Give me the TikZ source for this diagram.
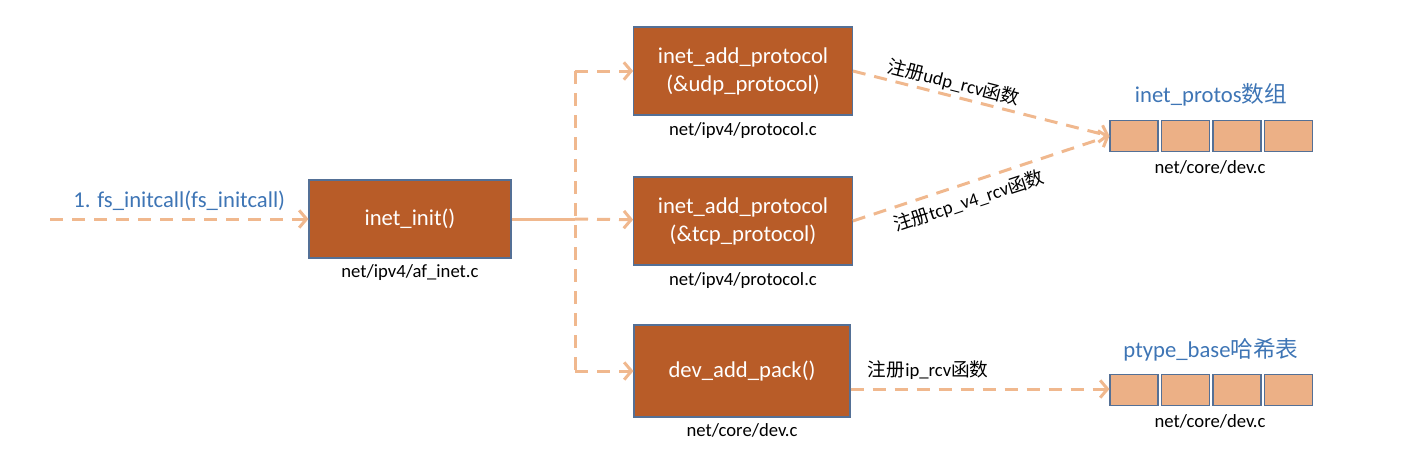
\documentclass[tikz,border=0pt]{standalone}
\usepackage{fontspec}
\setmainfont{Carlito}
\newfontfamily\cjk{Noto Sans CJK SC}
\usetikzlibrary{arrows.meta,positioning}
\definecolor{boxfill}{RGB}{184,92,40}
\definecolor{boxline}{RGB}{84,112,150}
\definecolor{cellfill}{RGB}{236,176,134}
\definecolor{arrowc}{RGB}{240,184,142}
\definecolor{bluetext}{RGB}{62,117,181}
\newcommand{\zh}[1]{{\cjk #1}}
\begin{document}
\begin{tikzpicture}[x=0.75pt, y=-0.75pt,
  box/.style = {draw=boxline, line width=0.8pt, fill=boxfill, text=white, align=center, minimum width=164pt, minimum height=66pt, font=\fontsize{17}{21}\selectfont},
  cell/.style = {draw=boxline, line width=0.8pt, fill=cellfill, minimum width=36pt, minimum height=23pt, inner sep=0pt},
  note/.style = {font=\fontsize{14}{16}\selectfont, inner sep=1pt},
  title/.style = {text=bluetext, font=\fontsize{17}{20}\selectfont},
  lbl/.style = {font=\fontsize{14}{16}\selectfont, inner sep=2pt},
  dline/.style = {draw=arrowc, line width=2.25pt, dash pattern=on 9.75pt off 6.75pt},
  arr/.style = {dline, -{Straight Barb[length=5.5pt, width=13pt]}}]
\useasboundingbox (0,0) rectangle (1402,450);

% boxes
\node[box, minimum width=151.5pt, minimum height=58.5pt] (init) at (410,219) {inet\_init()};
\node[box] (udp) at (743,71) {inet\_add\_protocol\\(\&udp\_protocol)};
\node[box] (tcp) at (743,221) {inet\_add\_protocol\\(\&tcp\_protocol)};
\node[box, minimum width=162pt, minimum height=69pt] (dev) at (742,371) {dev\_add\_pack()};

\node[note, below=3.5pt of init] {net/ipv4/af\_inet.c};
\node[note, below=4pt of udp] {net/ipv4/protocol.c};
\node[note, below=4pt of tcp] {net/ipv4/protocol.c};
\node[note, below=3pt of dev] {net/core/dev.c};

% arrays
\foreach \i in {0,...,3} {
  \node[cell] (a\i) at (1134+51.5*\i,136) {};
  \node[cell] (b\i) at (1134+51.5*\i,390) {};
}
\node[title] at (1211,95) {inet\_protos\zh{数组}};
\node[title] at (1211,350) {ptype\_base\zh{哈希表}};
\node[note, below=5.5pt of a1.south east] {net/core/dev.c};
\node[note, below=5.5pt of b1.south east] {net/core/dev.c};

% connectors
\coordinate (start) at (50,219);
\coordinate (j) at (575,219);
\coordinate (jt) at (575,71);
\coordinate (jb) at (575,371);

\draw[arr] (start) -- (init) node[midway, above=2pt, title] {1. fs\_initcall(fs\_initcall)};
\draw[draw=arrowc, line width=2.25pt] (init) -- (j);
\draw[arr] (j) -- (tcp);
\draw[dline] (jt) -- (jb);
\draw[arr] (jt) -- (udp);
\draw[arr] (jb) -- (dev);

\draw[arr] (udp.east) -- (a0.west) node[pos=0.38, sloped, above, lbl] {\zh{注册}udp\_rcv\zh{函数}};
\draw[arr] (tcp.east) -- (a0.west) node[pos=0.43, sloped, below=3pt, lbl] {\zh{注册}tcp\_v4\_rcv\zh{函数}};
\draw[arr] (dev.east |- 0,389) -- (b0.west |- 0,389) node[pos=0.3, above=4pt, lbl] {\zh{注册}ip\_rcv\zh{函数}};
\end{tikzpicture}
\end{document}
